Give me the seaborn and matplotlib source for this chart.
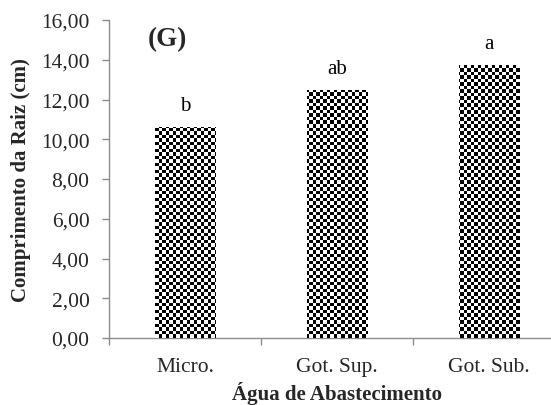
import numpy as np
import pandas as pd
import matplotlib
matplotlib.use("Agg")
import matplotlib.pyplot as plt
from matplotlib.ticker import FixedLocator, FuncFormatter
import seaborn as sns

# Root length by irrigation water supply
categories = ["Micro.", "Got. Sup.", "Got. Sub."]
root_length = [10.63, 12.48, 13.74]
letters = ["b", "ab", "a"]
y_ticks = [0, 2, 4, 6, 8, 10, 12, 14, 16]

sns.set_theme(style="white")
plt.rcParams["font.family"] = ["Liberation Serif", "DejaVu Serif"]

W, H = 551, 406
fig = plt.figure(figsize=(W / 100, H / 100), dpi=100)
ax = fig.add_axes([109 / W, (H - 339) / H, 456 / W, 318 / H])

df = pd.DataFrame({"cat": categories, "val": root_length})
sns.barplot(data=df, x="cat", y="val", color="white", width=0.4,
            edgecolor="none", linewidth=0, ax=ax)

ax.set_xlim(-0.5, 2.5)
ax.set_ylim(0, 16)

# checkerboard fill, clipped to each bar
cols, rows = 130, 91
yy, xx = np.mgrid[0:rows, 0:cols]
checker = ((xx + yy) % 2).astype(float)
for patch in ax.patches:
    im = ax.imshow(checker, cmap="gray", vmin=0, vmax=1, extent=(-0.5, 2.5, 0, 16),
                   aspect="auto", interpolation="nearest", zorder=3)
    im.set_clip_path(patch)
ax.set_xlim(-0.5, 2.5)
ax.set_ylim(0, 16)

# significance letters
for patch, lab in zip(ax.patches, letters):
    x = patch.get_x() + patch.get_width() / 2
    ax.annotate(lab, (x, patch.get_height()), xytext=(0, 12.2),
                textcoords="offset points", ha="center", va="baseline",
                fontsize=15, color="black")

ax.text(0.129, 0.94, "(G)", transform=ax.transAxes, fontsize=19.5,
        fontweight="bold", ha="center", va="center")

grey = "#8c8c8c"
for side in ["top", "right"]:
    ax.spines[side].set_visible(False)
for side in ["left", "bottom"]:
    ax.spines[side].set_color(grey)
    ax.spines[side].set_linewidth(1.0)

ax.yaxis.set_major_locator(FixedLocator(y_ticks))
ax.yaxis.set_major_formatter(FuncFormatter(lambda v, p: f"{v:.2f}".replace(".", ",")))
ax.tick_params(axis="y", which="major", direction="out", length=5, width=1,
               color=grey, labelsize=15.5, pad=9, left=True)
ax.set_xticks(range(len(categories)))
ax.set_xticklabels(categories)
ax.tick_params(axis="x", which="major", length=0, labelsize=15.5, pad=14)
ax.xaxis.set_minor_locator(FixedLocator([-0.5, 0.5, 1.5, 2.5]))
ax.tick_params(axis="x", which="minor", direction="out", length=5, width=1,
               color=grey, bottom=True)

ax.set_xlabel("Água de Abastecimento", fontsize=15, fontweight="bold", labelpad=3)
ax.set_ylabel("Comprimento da Raiz (cm)", fontsize=15, fontweight="bold", labelpad=7)

fig.savefig("out.png", dpi=100)
